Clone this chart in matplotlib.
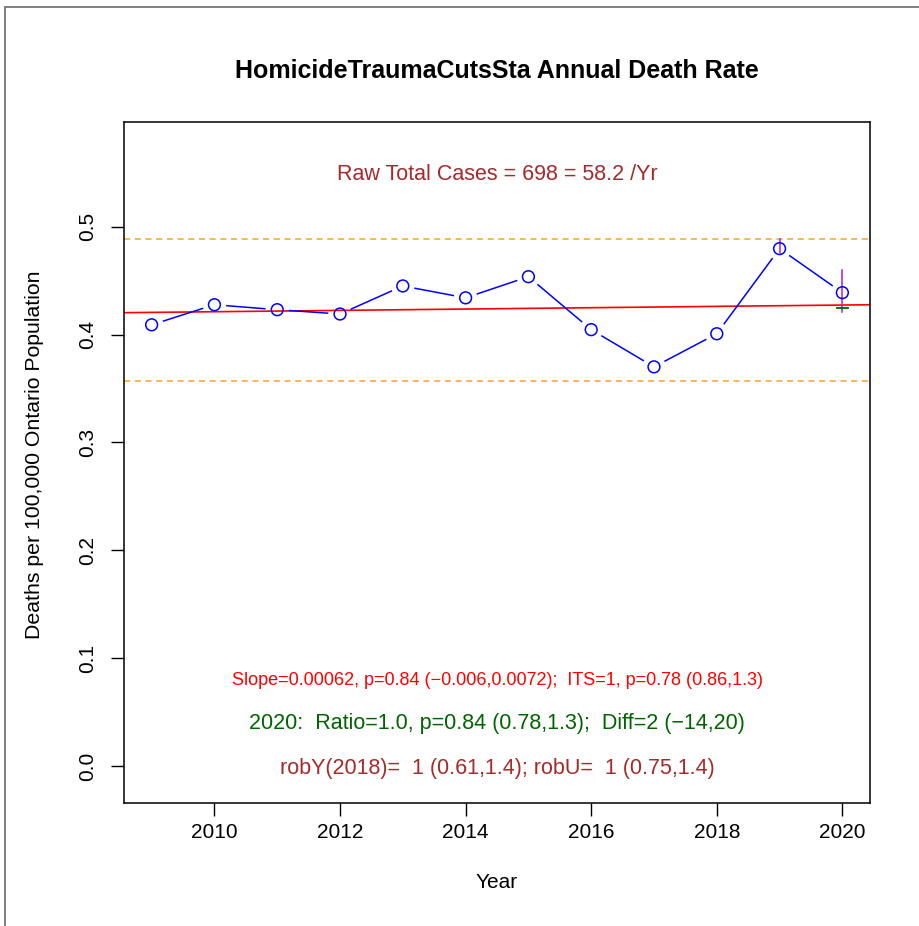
import matplotlib
matplotlib.use("Agg")
import matplotlib.pyplot as plt
from matplotlib.lines import Line2D
import numpy as np

plt.rcParams['font.family'] = ['Liberation Sans', 'DejaVu Sans']

years = [2009, 2010, 2011, 2012, 2013, 2014, 2015, 2016, 2017, 2018, 2019, 2020]
rates = [0.409, 0.4276, 0.423, 0.419, 0.445, 0.434, 0.4536, 0.4045, 0.370, 0.4007, 0.4796, 0.4388]
trend_start = 0.4205   # fitted value at 2009
trend_slope = 0.00062
band_upper = 0.4889
band_lower = 0.357
ci_2020 = (0.421, 0.460)
ci_2019 = (0.476, 0.489)
pred_2020 = 0.4244

title = "HomicideTraumaCutsSta Annual Death Rate"
xlabel = "Year"
ylabel = "Deaths per 100,000 Ontario Population"
raw_text = "Raw Total Cases = 698 = 58.2 /Yr"
slope_text = "Slope=0.00062, p=0.84 (\u22120.006,0.0072);  ITS=1, p=0.78 (0.86,1.3)"
ratio_text = "2020:  Ratio=1.0, p=0.84 (0.78,1.3);  Diff=2 (\u221214,20)"
rob_text = "robY(2018)=  1 (0.61,1.4); robU=  1 (0.75,1.4)"
xticks = [2010, 2012, 2014, 2016, 2018, 2020]
yticks = [0.0, 0.1, 0.2, 0.3, 0.4, 0.5]

W, H = 920, 926
fig = plt.figure(figsize=(W / 100, H / 100), dpi=100)
ax = fig.add_axes([124 / W, (H - 803) / H, 746 / W, 681 / H])
ax.set_xlim(2008.56, 2020.44)
ax.set_ylim(-0.0343, 0.597)

for s in ax.spines.values():
    s.set_linewidth(1.1)
    s.set_color('black')

ax.set_xticks(xticks)
ax.set_xticklabels([str(t) for t in xticks])
ax.set_yticks(yticks)
ax.set_yticklabels([f"{t:.1f}" for t in yticks], rotation=90, va='center')
ax.tick_params(axis='both', length=9.4, width=1.0, labelsize=15, direction='out')
ax.tick_params(axis='x', pad=5)
ax.tick_params(axis='y', pad=10)

# bands
ax.axhline(band_upper, color='#F5A623', ls=(0, (4, 3)), lw=1.1)
ax.axhline(band_lower, color='#F5A623', ls=(0, (4, 3)), lw=1.1)

# trend
xl = np.array(ax.get_xlim())
ax.plot(xl, trend_start + trend_slope * (xl - years[0]), color='red', lw=1.2)

# line with gaps (type = "b")
fig.canvas.draw()
T = ax.transData
Ti = T.inverted()
pts = T.transform(np.column_stack([years, rates]))
gap = 12.5
for i in range(len(pts) - 1):
    p0, p1 = pts[i], pts[i + 1]
    d = p1 - p0
    L = np.hypot(*d)
    if L <= 2 * gap:
        continue
    u = d / L
    a = Ti.transform(p0 + u * gap)
    b = Ti.transform(p1 - u * gap)
    ax.plot([a[0], b[0]], [a[1], b[1]], color='blue', lw=1.1)

# CI segments
ax.plot([years[-1], years[-1]], ci_2020, color='#A020F0', lw=1.1)
ax.plot([years[-2], years[-2]], ci_2019, color='#A020F0', lw=1.1)
ax.plot([years[-1] - 0.09, years[-1] + 0.09], [pred_2020, pred_2020], color='#006400', lw=1.3)

ax.scatter(years, rates, s=72, facecolors='none', edgecolors='blue', linewidths=1.1, zorder=5)

# annotations
xc = 2014.5
ax.text(xc, 0.548, raw_text, color='#A52A2A', fontsize=15.5, ha='center', va='center')
ax.text(xc, 0.0789, slope_text, color='red', fontsize=13, ha='center', va='center')
ax.text(xc, 0.0397, ratio_text, color='#006400', fontsize=15.5, ha='center', va='center')
ax.text(xc, -0.0025, rob_text, color='#A52A2A', fontsize=15.5, ha='center', va='center')

fig.text(497 / W, 1 - 71 / H, title, fontsize=18, fontweight='bold', ha='center', va='center')
fig.text(497 / W, 1 - 883 / H, xlabel, fontsize=15, ha='center', va='center')
fig.text(35 / W, 1 - 455 / H, ylabel, fontsize=15.3, ha='center', va='center', rotation=90)

# outer frame
fig.add_artist(Line2D([5 / W, 5 / W], [0, 1 - 7 / H], transform=fig.transFigure, color='#808080', lw=1.4))
fig.add_artist(Line2D([5 / W, 1], [1 - 7 / H, 1 - 7 / H], transform=fig.transFigure, color='#808080', lw=1.4))

fig.savefig("out.png", dpi=100)
